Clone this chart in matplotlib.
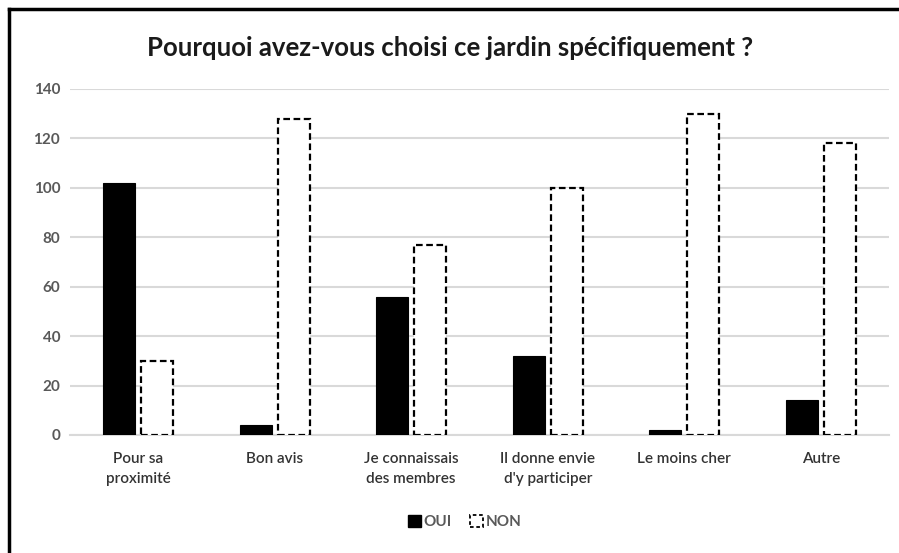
import matplotlib
matplotlib.use("Agg")
import matplotlib.pyplot as plt
import numpy as np
from matplotlib.patches import Patch
from matplotlib.lines import Line2D

categories = ["Pour sa\nproximité", "Bon avis", "Je connaissais\ndes membres",
              "Il donne envie\nd'y participer", "Le moins cher", "Autre"]
oui = [102, 4, 56, 32, 2, 14]
non = [30, 128, 77, 100, 130, 118]
yticks = [0, 20, 40, 60, 80, 100, 120, 140]
title = "Pourquoi avez-vous choisi ce jardin spécifiquement ?"

plt.rcParams['font.family'] = ['Lato', 'DejaVu Sans']

W, H = 899, 553
fig = plt.figure(figsize=(W / 100, H / 100), dpi=100)
ax = fig.add_axes([70 / W, 1 - 435 / H, (889 - 70) / W, (435 - 89) / H])

x = np.arange(len(categories))
bw = 0.235
off = 0.14
ax.bar(x - off, oui, width=bw, color="black", edgecolor="black", linewidth=0.8, zorder=3)
ax.bar(x + off, non, width=bw, color="white", edgecolor="black", linewidth=1.6,
       linestyle=(0, (3, 1.6)), zorder=3)

ax.set_xlim(-0.5, len(categories) - 0.5)
ax.set_ylim(0, 140)
ax.set_yticks(yticks)
ax.set_xticks(x)
ax.set_xticklabels(categories, fontsize=11, color="#333333", linespacing=1.55)
ax.tick_params(axis='y', labelsize=11, labelcolor="#595959", length=0, pad=7)
ax.tick_params(axis='x', length=0, pad=12)
for lab in ax.get_yticklabels():
    lab.set_fontweight('bold')
for lab in ax.get_xticklabels():
    lab.set_fontweight('semibold')
ax.grid(axis='y', color="#d9d9d9", linewidth=1.5, zorder=0)
ax.set_axisbelow(True)
for s in ['top', 'right', 'left']:
    ax.spines[s].set_visible(False)
ax.spines['bottom'].set_color("#d9d9d9")
ax.spines['bottom'].set_linewidth(1.5)

fig.text(450 / W, 1 - 48 / H, title, ha='center', va='center', fontsize=18.5,
         fontweight='bold', color="#1a1a1a")

handles = [Patch(facecolor='black', edgecolor='black'),
           Patch(facecolor='white', edgecolor='black', linestyle=(0, (2, 1.5)), linewidth=1.3)]
leg = fig.legend(handles, ["OUI", "NON"], loc='center', bbox_to_anchor=(465 / W, 1 - 522 / H),
                 ncol=2, frameon=False, handlelength=0.8, handleheight=0.8,
                 handletextpad=0.2, columnspacing=1.2, fontsize=11)
for t in leg.get_texts():
    t.set_color("#595959")
    t.set_fontweight('bold')

# frame lines (left and top)
fig.add_artist(Line2D([9 / W, 9 / W], [0, 1 - 9 / H], color='black', linewidth=2.5,
                      transform=fig.transFigure))
fig.add_artist(Line2D([9 / W, 1], [1 - 9 / H, 1 - 9 / H], color='black', linewidth=2.5,
                      transform=fig.transFigure))

fig.savefig("out.png", dpi=100)
